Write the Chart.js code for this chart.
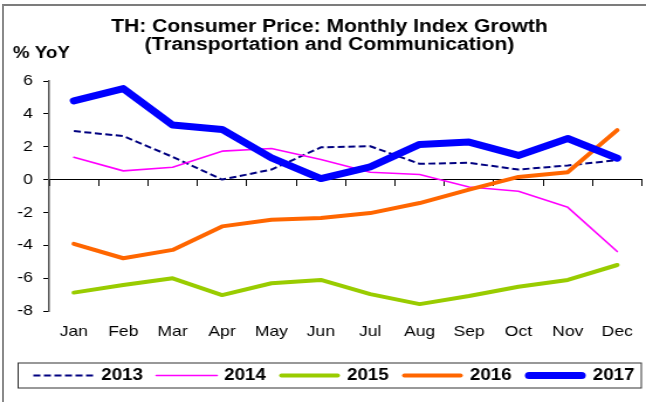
<!DOCTYPE html>
<html>
<head>
<meta charset="utf-8">
<title>TH CPI - Transportation and Communication</title>
<script src="https://cdn.jsdelivr.net/npm/chart.js@4.4.1/dist/chart.umd.min.js"></script>
<style>
    html, body { margin: 0; padding: 0; background: #fff; overflow: hidden; }
    /* chart is laid out narrow and widened, like the exported picture */
    #wrap { position: absolute; left: 0; top: 0; width: 552px; height: 402px; transform: scaleX(1.1703); transform-origin: 0 0; }
    #frame { position: absolute; left: 2px; top: 4px; width: 700px; height: 420px; border-left: 2px solid #8a8a8a; border-top: 2px solid #7c7c7c; pointer-events: none; }
</style>
</head>
<body>
<div id="wrap"><canvas id="cpiChart"></canvas></div>
<div id="frame"></div>
<script>
// Monthly CPI growth, % YoY
const months = ["Jan", "Feb", "Mar", "Apr", "May", "Jun", "Jul", "Aug", "Sep", "Oct", "Nov", "Dec"];
const years = ["2013", "2014", "2015", "2016", "2017"];
const yoy2013 = [2.95, 2.65, 1.38, 0.0, 0.61, 1.96, 2.03, 0.96, 1.02, 0.61, 0.86, 1.18];
const yoy2014 = [1.36, 0.53, 0.75, 1.73, 1.89, 1.22, 0.45, 0.31, -0.45, -0.71, -1.69, -4.38];
const yoy2015 = [-6.88, -6.42, -6.01, -7.03, -6.31, -6.11, -6.97, -7.58, -7.09, -6.52, -6.11, -5.2];
const yoy2016 = [-3.91, -4.79, -4.28, -2.85, -2.44, -2.34, -2.04, -1.43, -0.61, 0.16, 0.45, 3.01];
const yoy2017 = [4.79, 5.54, 3.32, 3.05, 1.32, 0.06, 0.77, 2.14, 2.28, 1.47, 2.5, 1.3];
const yTicks = [-8, -6, -4, -2, 0, 2, 4, 6];

const seriesValues = [yoy2013, yoy2014, yoy2015, yoy2016, yoy2017];
const lineColors = ["#000080", "#FF00FF", "#99CC00", "#FF6600", "#0000FF"];
const lineWidths = [2, 1.6, 4, 4, 7];
const lineDashes = [[6, 3], [], [], [], []];

Chart.defaults.font.family = "'Liberation Sans', Arial, sans-serif";
Chart.defaults.color = "#000";

const datasets = years.map((year, i) => ({
    label: year,
    data: seriesValues[i],
    borderColor: lineColors[i],
    backgroundColor: lineColors[i],
    borderWidth: lineWidths[i],
    borderDash: lineDashes[i],
    borderCapStyle: lineDashes[i].length ? "butt" : "round",
    borderJoinStyle: "round",
    pointRadius: 0,
    tension: 0,
    fill: false,
    order: years.length - i, // latest year on top
    xAxisID: "x",
    yAxisID: "y"
}));

// Unit label over the y axis
const unitLabel = {
    id: "unitLabel",
    afterDraw(chart) {
        const ctx = chart.ctx;
        ctx.save();
        ctx.font = "bold 16px 'Liberation Sans', Arial, sans-serif";
        ctx.fillStyle = "#000";
        ctx.textBaseline = "alphabetic";
        ctx.textAlign = "left";
        ctx.fillText("% YoY", 11, 58);
        ctx.restore();
    }
};

// Boxed legend in one row under the month labels
const boxedLegend = {
    id: "boxedLegend",
    afterDraw(chart) {
        const ctx = chart.ctx;
        const top = 363, bottom = 388, left = 15.5, right = 548;
        const midY = (top + bottom) / 2;
        ctx.save();
        ctx.strokeStyle = "#333";
        ctx.lineWidth = 1;
        ctx.setLineDash([]);
        ctx.strokeRect(left, top, right - left, bottom - top);

        ctx.font = "bold 16px 'Liberation Sans', Arial, sans-serif";
        ctx.fillStyle = "#000";
        ctx.textBaseline = "middle";
        chart.data.datasets.forEach((ds, i) => {
            const x0 = 28.5 + i * 105;
            const inset = ds.borderWidth > 3 ? ds.borderWidth / 2 : 0;
            ctx.beginPath();
            ctx.strokeStyle = ds.borderColor;
            ctx.lineWidth = ds.borderWidth;
            ctx.setLineDash(ds.borderDash || []);
            ctx.lineCap = ds.borderCapStyle;
            ctx.moveTo(x0 + inset, midY);
            ctx.lineTo(x0 + 52 - inset, midY);
            ctx.stroke();
            ctx.fillText(ds.label, x0 + 58, midY + 0.5);
        });
        ctx.restore();
    }
};

new Chart(document.getElementById("cpiChart"), {
    type: "line",
    data: { labels: months, datasets: datasets },
    options: {
        responsive: true,
        maintainAspectRatio: false,
        animation: false,
        layout: { padding: { top: 0, left: 12, right: 1, bottom: 62 } },
        plugins: {
            legend: { display: false },
            tooltip: { enabled: false },
            title: {
                display: true,
                text: ["TH: Consumer Price: Monthly Index Growth", "(Transportation and Communication)"],
                color: "#000",
                font: { size: 18, weight: "bold", lineHeight: 1.0 },
                padding: { top: 18, bottom: 27 }
            }
        },
        scales: {
            // zero line with tick marks between the months
            x: {
                type: "category",
                position: { y: 0 },
                offset: true,
                grid: { offset: true, drawOnChartArea: false, drawTicks: true, tickLength: 6, color: "#000", lineWidth: 1 },
                border: { display: true, color: "#000", width: 1 },
                ticks: { display: false }
            },
            // month names along the bottom
            months: {
                type: "category",
                position: "bottom",
                offset: true,
                grid: { display: false, drawTicks: false },
                border: { display: false },
                ticks: { color: "#000", font: { size: 15 }, padding: 11.5, autoSkip: false, maxRotation: 0 },
                afterFit: scale => {
                    scale.height = 29;
                    scale.paddingLeft = 0;
                    scale.paddingRight = 0;
                }
            },
            y: {
                min: yTicks[0],
                max: yTicks[yTicks.length - 1],
                afterBuildTicks: scale => { scale.ticks = yTicks.map(v => ({ value: v })); },
                afterFit: scale => { scale.width = 30; },
                ticks: { color: "#000", font: { size: 15 }, padding: 9 },
                grid: { drawOnChartArea: false, drawTicks: true, tickLength: 5, color: "#000", lineWidth: 1 },
                border: { display: true, color: "#555", width: 1.5 }
            }
        }
    },
    plugins: [unitLabel, boxedLegend]
});
</script>
</body>
</html>
